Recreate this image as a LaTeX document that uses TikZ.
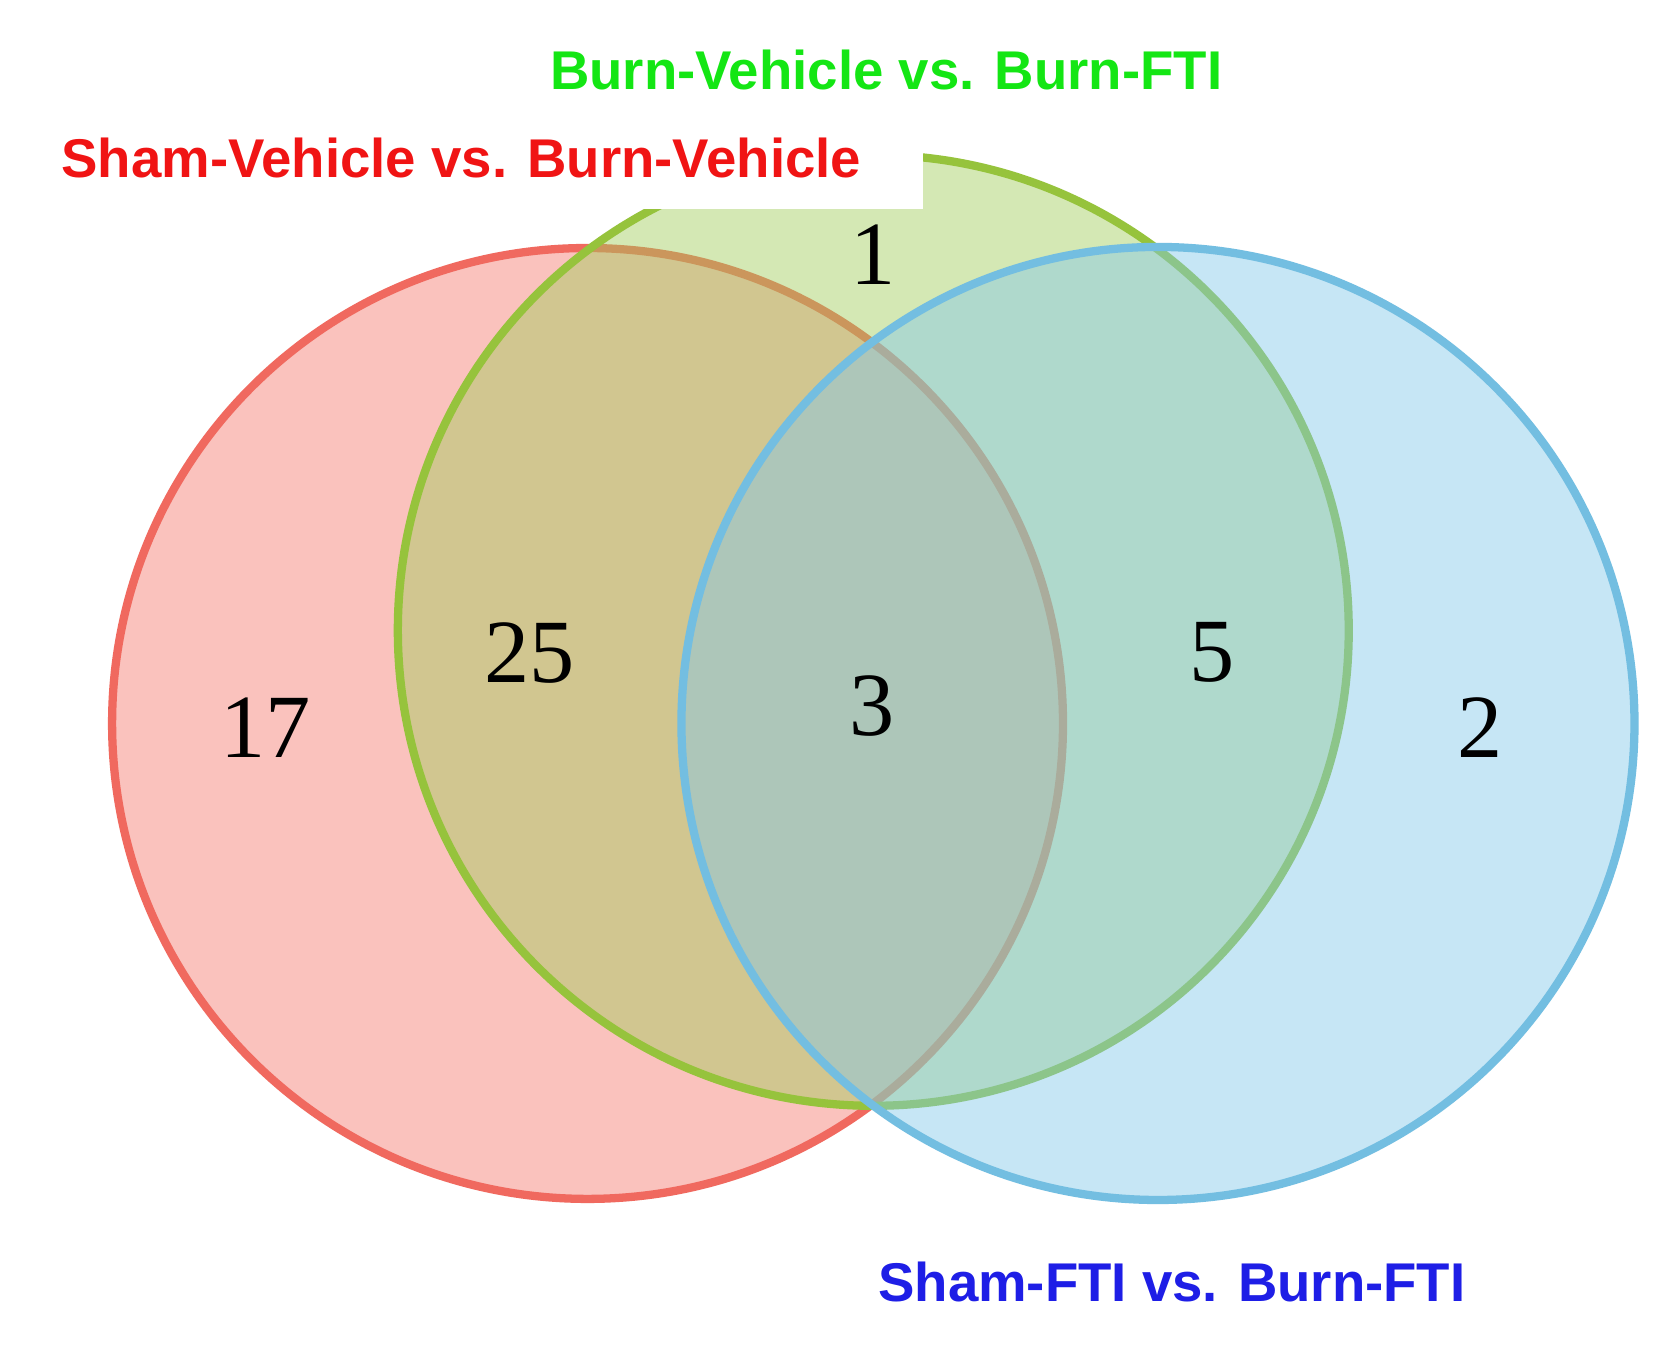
\documentclass[tikz,border=0pt]{standalone}
\usepackage{fontspec}
\setmainfont{Liberation Serif}
\newfontfamily\labelfont{Liberation Sans}
\definecolor{redline}{RGB}{240,105,95}
\definecolor{redfill}{RGB}{245,120,110}
\definecolor{greenline}{RGB}{150,195,60}
\definecolor{greenfill}{RGB}{160,205,90}
\definecolor{blueline}{RGB}{115,190,225}
\definecolor{bluefill}{RGB}{130,200,235}
\definecolor{redtext}{RGB}{240,20,20}
\definecolor{greentext}{RGB}{20,230,20}
\definecolor{bluetext}{RGB}{30,30,230}
\tikzset{
  set/.style={line width=2.2pt, fill opacity=0.45},
  title/.style={font=\labelfont\bfseries\fontsize{14.5}{16}\selectfont},
  count/.style={font=\fontsize{24}{26}\selectfont}
}
\begin{document}
\begin{tikzpicture}[x=0.01cm,y=-0.01cm]
  \useasboundingbox (0,0) rectangle (1567,1270);
  \fill[white] (0,0) rectangle (1567,1270);
  % the three sets
  \draw[set,draw=redline,fill=redfill] (549,676) circle (4.44cm);
  \draw[set,draw=greenline,fill=greenfill] (816,589) circle (4.44cm);
  \draw[set,draw=blueline,fill=bluefill] (1082,676) circle (4.45cm);
  % box behind the red title
  \fill[white] (20,115) rectangle (862,195);
  \node[title,text=greentext] (tgreen) at (828,65) {Burn-Vehicle vs. Burn-FTI};
  \node[title,text=redtext] (tred) at (431,148) {Sham-Vehicle vs. Burn-Vehicle};
  \node[title,text=bluetext] (tblue) at (1095,1198) {Sham-FTI vs. Burn-FTI};
  % counts
  \node[count] (ngreen) at (816,238) {1};
  \node[count] (nrg) at (495,610) {25};
  \node[count] (nred) at (248,680) {17};
  \node[count] (nall) at (815,660) {3};
  \node[count] (ngb) at (1133,610) {5};
  \node[count] (nblue) at (1383,680) {2};
\end{tikzpicture}
\end{document}
